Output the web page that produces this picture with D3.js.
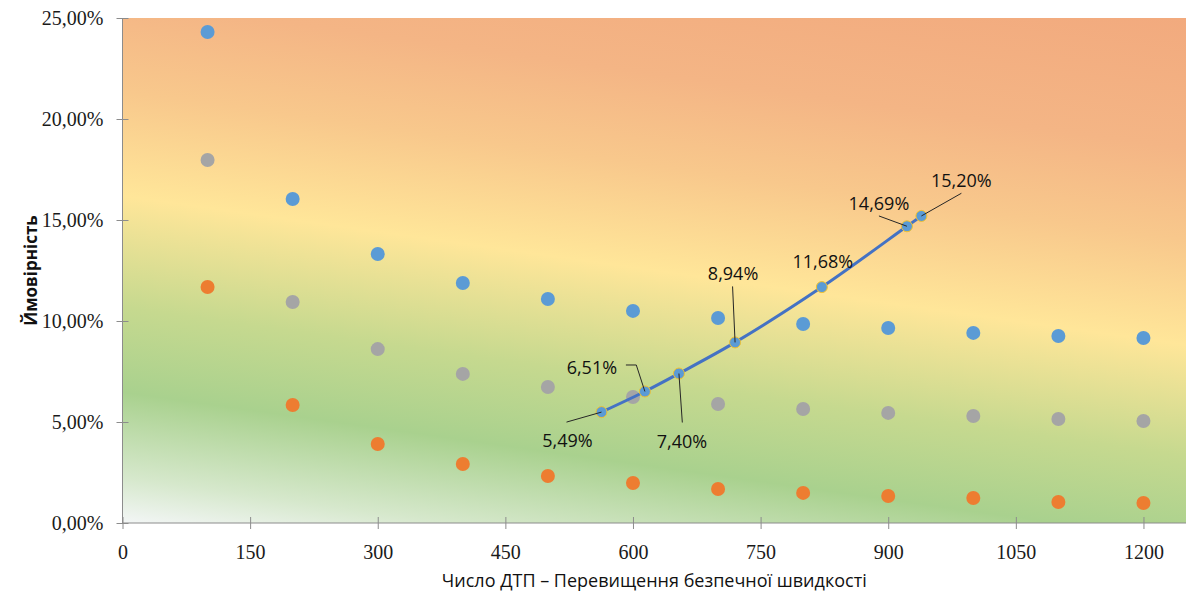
<!DOCTYPE html>
<html>
<head>
<meta charset="utf-8">
<script src="https://cdn.jsdelivr.net/npm/d3@7"></script>
<style>
  html, body { margin: 0; padding: 0; background: #ffffff; }
  svg { display: block; }
</style>
</head>
<body>
<svg id="chart" width="1189" height="591"></svg>
<script>
// Accident counts on the x axis
const xValues = [100, 200, 300, 400, 500, 600, 700, 800, 900, 1000, 1100, 1200];

// Probability curves (scatter series)
const seriesHigh = [0.2431, 0.1604, 0.1332, 0.1188, 0.1109, 0.1050, 0.1015, 0.0985, 0.0965, 0.0941, 0.0926, 0.0916];
const seriesMid  = [0.1797, 0.1094, 0.0861, 0.0738, 0.0673, 0.0624, 0.0589, 0.0564, 0.0545, 0.0530, 0.0515, 0.0505];
const seriesLow  = [0.1168, 0.0584, 0.0391, 0.0292, 0.0233, 0.0198, 0.0168, 0.0149, 0.0134, 0.0124, 0.0104, 0.0099];

// Highlighted trajectory with labelled values
const pathX = [563, 614, 654, 720, 822, 922, 939];
const pathY = [0.0549, 0.0651, 0.0740, 0.0894, 0.1168, 0.1469, 0.1520];

// Axis ticks
const xTicks = [0, 150, 300, 450, 600, 750, 900, 1050, 1200];
const yTicks = [0, 0.05, 0.10, 0.15, 0.20, 0.25];

const xTitle = "Число ДТП – Перевищення безпечної швидкості";
const yTitle = "Ймовірність";

// Label placement around each labelled point (pixels, relative to the point)
const labelPlacement = [
  { dx: -34, dy: 28,  leader: [[-35, 10], [0, 0]] },
  { dx: -53, dy: -24, leader: [[-19, -26.5], [-8.6, -26.5], [0, 0]] },
  { dx: 3,   dy: 67,  leader: [[3.4, 49], [0, 0]] },
  { dx: -2,  dy: -69, leader: [[-2.5, -56], [0, 0]] },
  { dx: 1,   dy: -26, leader: null },
  { dx: -28, dy: -23, leader: [[-28, -10.3], [0, 0]] },
  { dx: 40,  dy: -36, leader: [[40, -22.7], [0, 0]] }
];

const plot = { left: 122.5, right: 1186, top: 18, bottom: 523 };

const svg = d3.select("#chart");

const x = d3.scaleLinear().domain([0, 1250]).range([plot.left, plot.right]);
const y = d3.scaleLinear().domain([0, 0.25]).range([plot.bottom, plot.top]);

const locale = d3.formatLocale({ decimal: ",", thousands: " ", grouping: [3], currency: ["", ""] });
const pct = locale.format(".2%");

// Background gradient: pale corner → green → yellow → orange, bands tilted slightly
const defs = svg.append("defs");
const ang = Math.atan(0.14);
const L = 654 * Math.cos(ang);
const grad = defs.append("linearGradient")
  .attr("id", "bg")
  .attr("gradientUnits", "userSpaceOnUse")
  .attr("x1", plot.left).attr("y1", plot.bottom)
  .attr("x2", plot.left + L * Math.sin(ang)).attr("y2", plot.bottom - L * Math.cos(ang));
[
  [0.00, "#f3f6f6"],
  [0.07, "#d6e8cc"],
  [0.20, "#a9d18e"],
  [0.33, "#c6d98f"],
  [0.50, "#ffe699"],
  [0.66, "#f8c88c"],
  [0.80, "#f4b585"],
  [1.00, "#f2aa7e"]
].forEach(([o, c]) => grad.append("stop").attr("offset", o).attr("stop-color", c));

svg.append("rect")
  .attr("x", plot.left).attr("y", plot.top)
  .attr("width", plot.right - plot.left).attr("height", plot.bottom - plot.top)
  .attr("fill", "url(#bg)");

// Axes
const axisColor = "#8c8c8c";
const gx = svg.append("g").attr("transform", `translate(0,${plot.bottom})`)
  .call(d3.axisBottom(x).tickValues(xTicks).tickFormat(d => String(d)).tickSize(0).tickPadding(22));
gx.select(".domain").attr("stroke", axisColor).attr("d", `M${plot.left},0H${plot.right}`);
gx.selectAll(".tick").append("line").attr("y1", -6).attr("y2", 6).attr("stroke", axisColor);

const gy = svg.append("g").attr("transform", `translate(${plot.left},0)`)
  .call(d3.axisLeft(y).tickValues(yTicks).tickFormat(pct).tickSize(0).tickPadding(19));
gy.select(".domain").attr("stroke", axisColor).attr("d", `M0,${plot.top}V${plot.bottom}`);
gy.selectAll(".tick").append("line").attr("x1", -6).attr("x2", 6).attr("stroke", axisColor);

svg.selectAll(".tick text")
  .attr("font-family", "'Liberation Serif', 'Times New Roman', serif")
  .attr("font-size", 20)
  .attr("fill", "#1a1a1a");

// Scatter series
const scatter = [
  { values: seriesHigh, color: "#5b9bd5" },
  { values: seriesMid,  color: "#a5a5a5" },
  { values: seriesLow,  color: "#ed7d31" }
];
scatter.forEach(s => {
  svg.append("g").selectAll("circle")
    .data(xValues.map((v, i) => [v, s.values[i]]))
    .join("circle")
    .attr("cx", d => x(d[0]))
    .attr("cy", d => y(d[1]))
    .attr("r", 7)
    .attr("fill", s.color);
});

// Highlighted trajectory
const pathData = pathX.map((v, i) => [v, pathY[i]]);
svg.append("path")
  .datum(pathData)
  .attr("fill", "none")
  .attr("stroke", "#4472c4")
  .attr("stroke-width", 3)
  .attr("d", d3.line().x(d => x(d[0])).y(d => y(d[1])).curve(d3.curveCatmullRom.alpha(0.5)));

svg.append("g").selectAll("circle")
  .data(pathData)
  .join("circle")
  .attr("cx", d => x(d[0]))
  .attr("cy", d => y(d[1]))
  .attr("r", 5.5)
  .attr("fill", "#5b9bd5")
  .attr("stroke", "#f2c12e")
  .attr("stroke-width", 1);

// Leader lines and value labels
const labels = svg.append("g");
pathData.forEach((d, i) => {
  const px = x(d[0]), py = y(d[1]);
  const p = labelPlacement[i];
  if (p.leader) {
    labels.append("path")
      .attr("d", d3.line()(p.leader.map(([a, b]) => [px + a, py + b])))
      .attr("fill", "none")
      .attr("stroke", "#262626")
      .attr("stroke-width", 1);
  }
  labels.append("text")
    .attr("x", px + p.dx)
    .attr("y", py + p.dy)
    .attr("text-anchor", "middle")
    .attr("dominant-baseline", "central")
    .attr("font-family", "'Open Sans', 'Noto Sans', sans-serif")
    .attr("font-size", 18)
    .attr("fill", "#111111")
    .text(pct(d[1]));
});

// Axis titles
svg.append("text")
  .attr("x", (plot.left + plot.right) / 2)
  .attr("y", 580)
  .attr("text-anchor", "middle")
  .attr("dominant-baseline", "central")
  .attr("font-family", "'Open Sans', 'Noto Sans', sans-serif")
  .attr("font-size", 18)
  .attr("fill", "#111111")
  .text(xTitle);

svg.append("text")
  .attr("transform", `translate(30,${(plot.top + plot.bottom) / 2}) rotate(-90)`)
  .attr("text-anchor", "middle")
  .attr("dominant-baseline", "central")
  .attr("font-family", "'Open Sans', 'Noto Sans', sans-serif")
  .attr("font-weight", "bold")
  .attr("font-size", 17)
  .attr("fill", "#111111")
  .text(yTitle);
</script>
</body>
</html>
